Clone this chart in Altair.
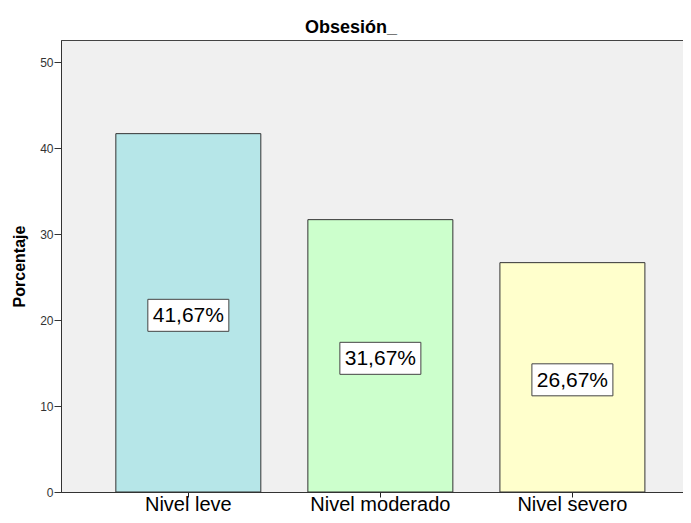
import altair as alt
import pandas as pd

categories = ["Nivel leve", "Nivel moderado", "Nivel severo"]
values = [41.67, 31.67, 26.67]
labels = ["41,67%", "31,67%", "26,67%"]
colors = ["#b6e6e8", "#ccffcc", "#ffffcc"]
y_ticks = [0, 10, 20, 30, 40, 50]
chart_title = ["Obsesión_"]

df = pd.DataFrame({"cat": categories, "val": values, "lab": labels})
df["mid"] = df["val"] / 2
title_df = pd.DataFrame({"t": chart_title})

FONT = "Liberation Sans"

x_scale = alt.Scale(paddingInner=0.245, paddingOuter=0.242, align=0.59)
y_scale = alt.Scale(domain=[0, 52.56], nice=False, zero=True)

x_enc = alt.X(
    "cat:N", sort=categories, scale=x_scale,
    axis=alt.Axis(title=None, labelAngle=0, labelFontSize=20, labelFont=FONT,
                  labelColor="#000", tickSize=5, tickColor="#222",
                  domainColor="#333", labelPadding=13, labelBaseline="alphabetic"),
)

bars = alt.Chart(df).mark_bar(stroke="#333", strokeWidth=1).encode(
    x=x_enc,
    y=alt.Y("val:Q", scale=y_scale,
            axis=alt.Axis(title="Porcentaje", values=y_ticks, grid=False,
                          labelFontSize=12, labelFont=FONT, labelColor="#333",
                          tickSize=7, tickColor="#333", domainColor="#333",
                          labelPadding=1,
                          titleFont=FONT, titleFontSize=16, titleFontWeight="bold",
                          titleColor="#000", titleX=-42, titleY=226,
                          titleAlign="center", titleBaseline="middle", titleAngle=270)),
    color=alt.Color("cat:N", scale=alt.Scale(domain=categories, range=colors), legend=None),
)

boxes = alt.Chart(df).mark_rect(width=81, height=32, fill="white", stroke="#444",
                                strokeWidth=1, yOffset=2.5).encode(
    x=alt.X("cat:N", sort=categories),
    y=alt.Y("mid:Q"),
)

texts = alt.Chart(df).mark_text(fontSize=21, font=FONT, color="#000",
                                baseline="middle", yOffset=3.5).encode(
    x=alt.X("cat:N", sort=categories),
    y=alt.Y("mid:Q"),
    text="lab:N",
)

title = alt.Chart(title_df).mark_text(fontSize=18, font=FONT, fontWeight="bold",
                                      color="#000", align="center",
                                      baseline="alphabetic").encode(
    text="t:N", x=alt.value(290), y=alt.value(-7),
)

chart = alt.layer(bars, boxes, texts, title).properties(
    width=622, height=452,
    padding={"left": 53, "top": 32, "right": 0, "bottom": 23},
    autosize=alt.AutoSizeParams(type="none"),
    background="white",
).configure_view(stroke="#444", fill="#f0f0f0")

chart.save("out.html", embed_options={"renderer": "svg", "actions": False})
